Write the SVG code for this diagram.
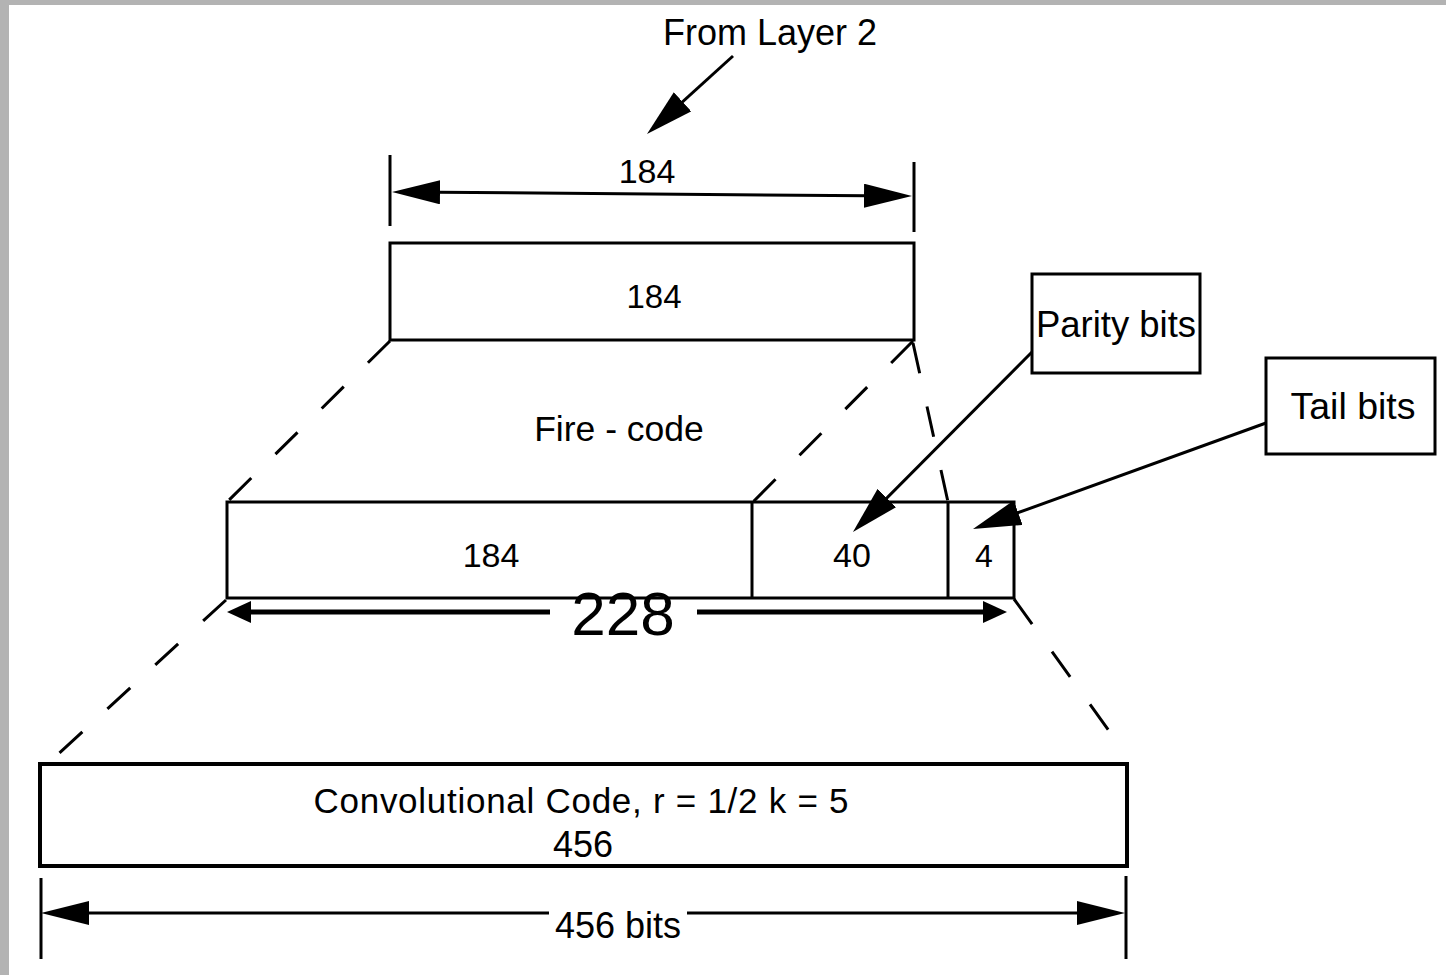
<svg xmlns="http://www.w3.org/2000/svg" width="1446" height="975" viewBox="0 0 1446 975">
<style>
  .bg{fill:#ffffff}
  .frame{fill:#b3b3b3}
  .box{fill:none;stroke:#000;stroke-width:3}
  .boxb{fill:none;stroke:#000;stroke-width:4}
  .ln{fill:none;stroke:#000;stroke-width:3}
  .thick{fill:none;stroke:#000;stroke-width:5}
  .dash{fill:none;stroke:#000;stroke-width:3;stroke-dasharray:31 34}
  .t{font-family:"Liberation Sans",Arial,Helvetica,sans-serif;fill:#000;text-anchor:middle}
</style>
<defs>
  <marker id="ptr" markerUnits="userSpaceOnUse" viewBox="0 0 48 26" markerWidth="48" markerHeight="26" refX="38" refY="13" orient="auto">
    <path d="M0,0 L48,13 L0,26 z" fill="#000"/>
  </marker>
  <marker id="dim" markerUnits="userSpaceOnUse" viewBox="0 0 48 24" markerWidth="48" markerHeight="24" refX="38" refY="12" orient="auto-start-reverse">
    <path d="M0,0 L48,12 L0,24 z" fill="#000"/>
  </marker>
  <marker id="sm" markerUnits="userSpaceOnUse" viewBox="0 0 24 22" markerWidth="24" markerHeight="22" refX="14" refY="11" orient="auto-start-reverse">
    <path d="M0,0 L24,11 L0,22 z" fill="#000"/>
  </marker>
</defs>
<rect class="bg" x="0" y="0" width="1446" height="975"/>
<rect class="frame" x="0" y="0" width="1446" height="5"/>
<rect class="frame" x="0" y="0" width="9" height="975"/>

<g id="label-from-layer2">
  <text class="t" x="770" y="45" font-size="36">From Layer 2</text>
</g>

<g id="dim-184">
  <line class="ln" x1="390" y1="155" x2="390" y2="226"/>
  <line class="ln" x1="914" y1="162" x2="914" y2="232"/>
  <text class="t" x="647" y="183" font-size="34">184</text>
</g>

<g id="box-184">
  <rect class="box" x="390" y="243" width="524" height="97"/>
  <text class="t" x="654" y="308" font-size="33">184</text>
</g>

<g id="label-fire-code">
  <text class="t" x="619" y="441" font-size="35.5">Fire - code</text>
</g>

<g id="box-228">
  <rect class="box" x="227" y="502" width="787" height="96"/>
  <line class="box" x1="752" y1="502" x2="752" y2="598"/>
  <line class="box" x1="948" y1="502" x2="948" y2="598"/>
  <text class="t" x="491" y="567" font-size="34">184</text>
  <text class="t" x="852" y="567" font-size="34">40</text>
  <text class="t" x="984" y="567" font-size="32">4</text>
</g>

<g id="parity-bits">
  <rect class="box" x="1032" y="274" width="168" height="99"/>
  <text class="t" x="1116" y="337" font-size="36.5">Parity bits</text>
</g>

<g id="tail-bits">
  <rect class="box" x="1266" y="358" width="169" height="96"/>
  <text class="t" x="1353" y="419" font-size="37.5">Tail bits</text>
</g>

<g id="dim-228">
  <text class="t" x="623" y="635" font-size="62">228</text>
</g>

<g id="box-456">
  <rect class="boxb" x="40" y="764" width="1087" height="102"/>
  <text class="t" x="581" y="813" font-size="35" textLength="535">Convolutional Code, r = 1/2 k = 5</text>
  <text class="t" x="583" y="857" font-size="36">456</text>
</g>

<g id="dim-456">
  <line class="ln" x1="41" y1="878" x2="41" y2="959"/>
  <line class="ln" x1="1126" y1="876" x2="1126" y2="959"/>
  <text class="t" x="618" y="938" font-size="36">456 bits</text>
</g>

<g id="connectors">
  <line class="ln" x1="733" y1="56" x2="654.4" y2="127.3" marker-end="url(#ptr)"/>
  <line class="ln" x1="402" y1="192" x2="902" y2="196" marker-start="url(#dim)" marker-end="url(#dim)"/>
  <line class="dash" x1="390" y1="341" x2="227" y2="502"/>
  <line class="dash" x1="913" y1="341" x2="753" y2="502"/>
  <line class="dash" x1="913" y1="343" x2="948" y2="502"/>
  <line class="ln" x1="1032" y1="352" x2="860" y2="525" marker-end="url(#ptr)"/>
  <line class="ln" x1="1266" y1="423" x2="982.4" y2="525.6" marker-end="url(#ptr)"/>
  <line class="thick" x1="237" y1="612" x2="550" y2="612" marker-start="url(#sm)"/>
  <line class="thick" x1="697" y1="612" x2="997" y2="612" marker-end="url(#sm)"/>
  <line class="dash" x1="226" y1="600" x2="55" y2="757"/>
  <line class="dash" x1="1014" y1="599" x2="1112" y2="735"/>
  <line class="ln" x1="51" y1="913" x2="549" y2="913" marker-start="url(#dim)"/>
  <line class="ln" x1="687" y1="913" x2="1115" y2="913" marker-end="url(#dim)"/>
</g>
</svg>
